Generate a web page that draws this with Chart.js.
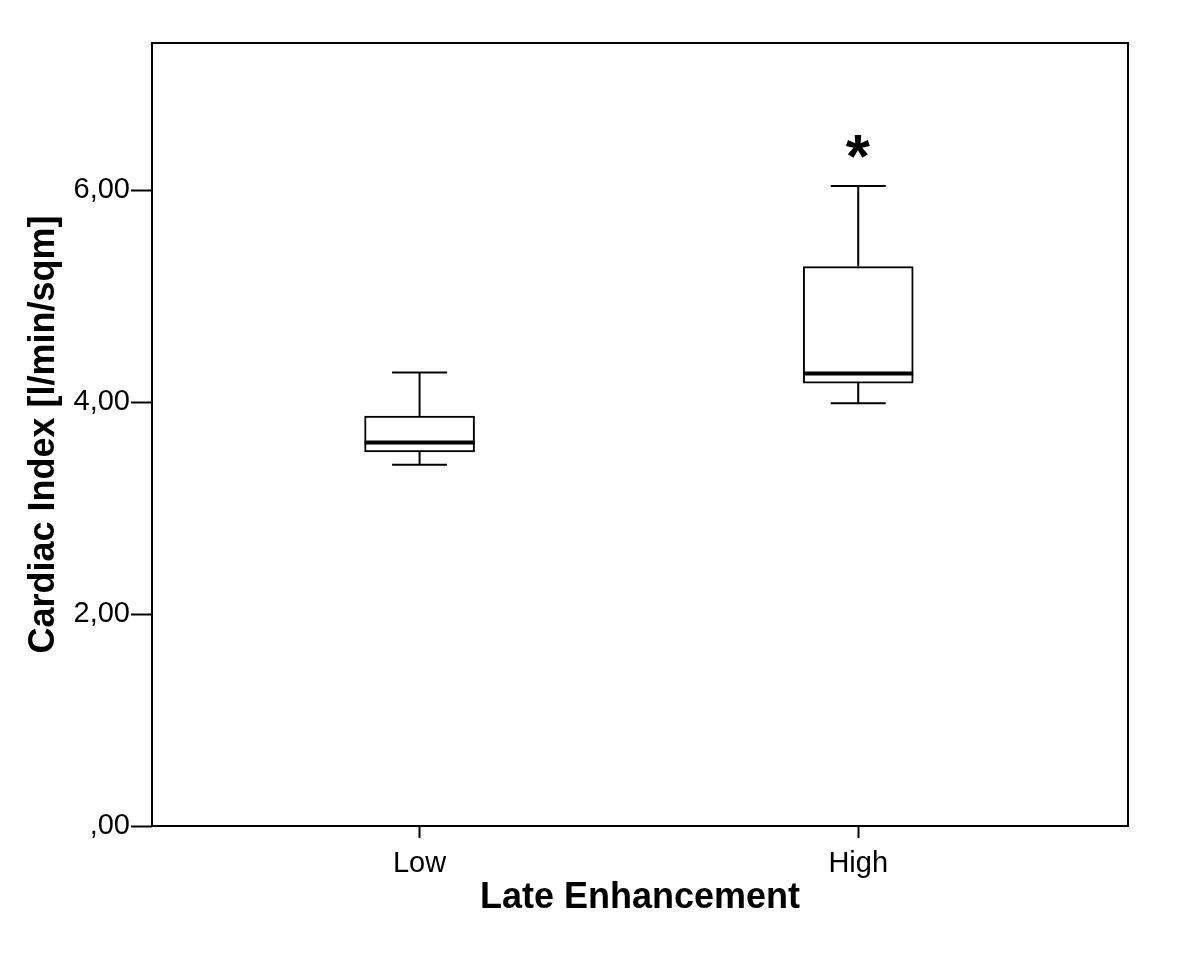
<!DOCTYPE html>
<html lang="en">
<head>
    <meta charset="UTF-8">
    <title>Cardiac Index by Late Enhancement</title>
    <script src="https://cdn.jsdelivr.net/npm/chart.js@4.4.1/dist/chart.umd.min.js"></script>
    <style>
        body { margin: 0; background: #fff; }
        canvas { display: block; }
    </style>
</head>
<body>
    <canvas id="box" width="1200" height="969"></canvas>
    <script>
        // Box plot values (l/min/sqm)
        const categories = ['Low', 'High'];
        const whiskerMin = [3.41, 3.99];
        const q1 = [3.53, 4.18];
        const median = [3.62, 4.27];
        const q3 = [3.87, 5.28];
        const whiskerMax = [4.28, 6.04];
        // extreme values marked with an asterisk: [category index, value]
        const extremes = [[1, 6.41]];
        const yTicks = [0, 2, 4, 6];

        const FONT = '"Liberation Sans", Arial, sans-serif';

        function fmt(v) {
            // SPSS style: comma decimal, no leading zero
            const s = v.toFixed(2).replace('.', ',');
            return s.startsWith('0') ? s.slice(1) : s;
        }

        // whiskers, medians, extremes and the frame
        const boxExtras = {
            id: 'boxExtras',
            afterDatasetsDraw(chart) {
                const ctx = chart.ctx;
                const y = chart.scales.y;
                const xs = chart.scales.x;
                const meta = chart.getDatasetMeta(0);
                ctx.save();
                ctx.strokeStyle = '#000';
                ctx.lineCap = 'butt';
                meta.data.forEach((bar, i) => {
                    const cx = bar.x;
                    const half = bar.width / 2;
                    const cap = half / 2;
                    ctx.lineWidth = 2;
                    ctx.beginPath();
                    ctx.moveTo(cx, y.getPixelForValue(q3[i]));
                    ctx.lineTo(cx, y.getPixelForValue(whiskerMax[i]));
                    ctx.moveTo(cx, y.getPixelForValue(q1[i]));
                    ctx.lineTo(cx, y.getPixelForValue(whiskerMin[i]));
                    ctx.moveTo(cx - cap, y.getPixelForValue(whiskerMax[i]));
                    ctx.lineTo(cx + cap, y.getPixelForValue(whiskerMax[i]));
                    ctx.moveTo(cx - cap, y.getPixelForValue(whiskerMin[i]));
                    ctx.lineTo(cx + cap, y.getPixelForValue(whiskerMin[i]));
                    ctx.stroke();
                    ctx.lineWidth = 4;
                    ctx.beginPath();
                    ctx.moveTo(cx - half, y.getPixelForValue(median[i]));
                    ctx.lineTo(cx + half, y.getPixelForValue(median[i]));
                    ctx.stroke();
                });
                // asterisks for extremes, glyph centred on the value
                ctx.fillStyle = '#000';
                ctx.font = 'bold 62px ' + FONT;
                extremes.forEach(([ci, v]) => {
                    const m = ctx.measureText('*');
                    const px = xs.getPixelForValue(ci);
                    const py = y.getPixelForValue(v);
                    const w = m.actualBoundingBoxLeft + m.actualBoundingBoxRight;
                    const bx = px - w / 2 + m.actualBoundingBoxLeft;
                    const by = py + (m.actualBoundingBoxAscent - m.actualBoundingBoxDescent) / 2;
                    ctx.textAlign = 'left';
                    ctx.textBaseline = 'alphabetic';
                    ctx.fillText('*', bx, by);
                });
                // plot frame
                const a = chart.chartArea;
                ctx.lineWidth = 2;
                ctx.strokeRect(a.left, a.top, a.right - a.left, a.bottom - a.top);
                ctx.restore();
            }
        };

        const ctx = document.getElementById('box').getContext('2d');
        new Chart(ctx, {
            type: 'bar',
            data: {
                datasets: [{
                    label: 'Cardiac Index',
                    data: categories.map((c, i) => ({ x: i, y: [q1[i], q3[i]] })),
                    backgroundColor: '#fff',
                    borderColor: '#000',
                    borderWidth: 2,
                    borderSkipped: false,
                    barThickness: 110
                }]
            },
            options: {
                responsive: false,
                animation: false,
                layout: { padding: { top: 43, right: 72, left: 0, bottom: 0 } },
                plugins: {
                    legend: { display: false },
                    tooltip: { enabled: false }
                },
                scales: {
                    x: {
                        type: 'linear',
                        min: -0.61,
                        max: 1.615,
                        offset: false,
                        afterFit(scale) { scale.height = 143; },
                        afterBuildTicks(scale) {
                            scale.ticks = categories.map((c, i) => ({ value: i }));
                        },
                        grid: {
                            offset: false,
                            drawOnChartArea: false,
                            drawTicks: true,
                            tickLength: 12,
                            tickWidth: 2,
                            color: '#000'
                        },
                        border: { display: false },
                        ticks: {
                            color: '#000',
                            padding: 9,
                            font: { family: FONT, size: 29 },
                            callback: (v) => categories[v]
                        },
                        title: {
                            display: true,
                            text: 'Late Enhancement',
                            color: '#000',
                            font: { family: FONT, size: 36, weight: 'bold' },
                            padding: { top: 0, bottom: 49 }
                        }
                    },
                    y: {
                        min: 0,
                        max: 7.39,
                        afterFit(scale) { scale.width = 152; },
                        afterBuildTicks(scale) {
                            scale.ticks = yTicks.map(v => ({ value: v }));
                        },
                        grid: {
                            drawOnChartArea: false,
                            drawTicks: true,
                            tickLength: 21,
                            tickWidth: 2,
                            color: '#000'
                        },
                        border: { display: false },
                        ticks: {
                            color: '#000',
                            padding: 1,
                            font: { family: FONT, size: 29 },
                            callback: (v) => fmt(v)
                        },
                        title: {
                            display: true,
                            text: 'Cardiac Index [l/min/sqm]',
                            color: '#000',
                            font: { family: FONT, size: 36, weight: 'bold' },
                            padding: { top: 22, bottom: 0 }
                        }
                    }
                }
            },
            plugins: [boxExtras]
        });
    </script>
</body>
</html>
